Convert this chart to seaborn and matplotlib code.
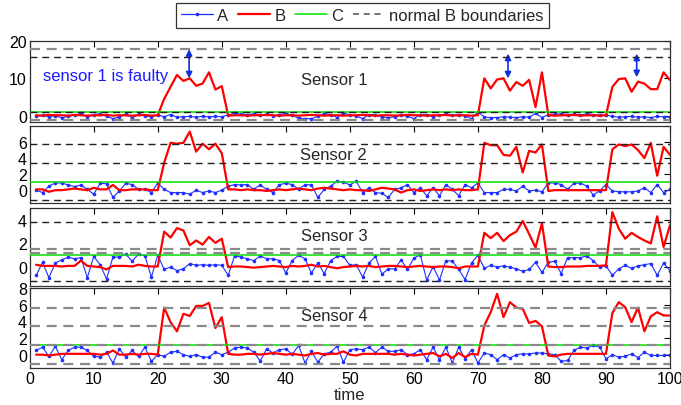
import numpy as np
import pandas as pd
import matplotlib
matplotlib.use("Agg")
import matplotlib.pyplot as plt
from matplotlib.lines import Line2D
import seaborn as sns

sns.set_style("white")
plt.rcParams['font.family'] = ['Liberation Sans', 'DejaVu Sans']

time = list(range(1, 101))

a_s1 = [-0.2, 0.1, -0.3, 0.0, -0.6, -0.2, 0.1, 0.6, -0.4, 0.3,
        0.5, -0.2, -0.8, -0.4, 0.5, -0.6, 0.4, -0.1, -0.3, 0.2,
        -0.3, 0.3, -0.4, -0.3, -0.2, -0.4, -0.2, -0.3, -0.2, -0.3,
        0.2, 0.6, 0.4, 0.3, 0.5, 0.2, 0.4, -0.1, 0.3, 0.6,
        0.1, -0.7, -0.8, -0.8, -0.2, 0.6, 0.3, -0.5, 0.7, 0.2,
        -0.1, -0.8, 0.3, 0.2, -0.4, -0.5, -0.3, 0.1, -0.1, -0.8,
        0.2, 0.3, -0.3, 0.2, 0.4, 0.1, 0.3, 0.0, -0.8, 1.1,
        -0.4, -0.5, -0.5, -0.3, -0.4, -0.5, -0.3, -0.4, 0.6, -0.5,
        0.3, 0.4, 0.5, 0.3, 0.4, 0.2, 0.5, 0.3, 0.1, 0.2,
        -0.2, -0.4, -0.3, -0.2, -0.4, -0.3, -0.5, -0.2, -0.3, -0.4]
b_s1 = [0.1, 0.0, 0.2, 0.1, 0.1, 0.0, 0.2, 0.1, 0.0, 0.1,
        0.1, 0.2, 0.0, 0.1, 0.1, 0.0, 0.1, 0.2, 0.0, 0.1,
        4.5, 7.7, 10.9, 9.3, 10.0, 8.0, 8.6, 11.6, 7.0, 7.9,
        0.0, 0.1, 0.1, 0.0, 0.1, 0.1, 0.2, 0.1, 0.0, 0.1,
        0.1, 0.0, 0.1, 0.2, 0.1, 0.0, 0.1, 0.1, 0.0, 0.1,
        0.1, 0.2, 0.1, 0.0, 0.1, 0.1, 0.0, 0.1, 0.2, 0.1,
        0.1, 0.0, 0.1, 0.1, 0.2, 0.0, 0.1, 0.1, 0.0, 0.1,
        10.0, 7.3, 9.7, 10.0, 6.7, 9.0, 8.0, 9.6, 2.3, 11.6,
        0.1, 0.0, 0.1, 0.1, 0.2, 0.0, 0.1, 0.1, 0.0, 0.1,
        7.7, 9.8, 10.0, 6.4, 9.1, 8.6, 7.1, 7.1, 11.6, 9.5]

a_s2 = [0.0, -0.3, 0.5, 0.9, 0.9, 0.65, 0.45, 0.65, 0.1, -0.5,
        0.85, 0.8, -0.9, -0.1, 0.85, 0.7, 0.1, 0.1, -0.3, 0.9,
        0.1, -0.3, -0.3, -0.3, -0.5, 0.0, -0.3, -0.1, -0.3, 0.0,
        0.5, 0.7, 0.65, 0.7, 0.1, 0.65, 0.1, -0.3, 0.7, 0.85,
        0.7, 0.1, 0.7, 0.65, -0.9, 0.1, 0.5, 1.1, 1.0, 0.65,
        1.1, -0.3, 0.3, -0.3, -0.4, -0.9, 0.1, 0.3, 0.7, -0.3,
        0.3, -0.7, 0.3, -0.7, 0.7, 0.1, -0.7, 0.7, 0.3, 0.9,
        -0.3, -0.3, -0.3, 0.1, 0.1, -0.1, 0.5, -0.1, 0.0, -0.2,
        0.9, 0.9, 0.7, 0.1, 0.85, 0.9, 0.5, -0.6, -0.1, 0.7,
        -0.1, -0.2, -0.2, -0.2, -0.1, 0.3, -0.3, 0.7, -0.3, 0.1]
b_s2 = [0.1, 0.1, -0.2, 0.0, 0.0, 0.1, 0.2, 0.1, 0.0, 0.3,
        0.1, 0.1, 0.65, 0.0, 0.0, 0.1, 0.1, 0.1, 0.0, 0.0,
        3.4, 5.9, 5.8, 5.9, 7.3, 4.8, 5.8, 5.1, 5.8, 4.6,
        0.1, 0.1, 0.0, 0.1, 0.0, 0.0, -0.1, 0.0, 0.1, 0.0,
        0.1, 0.2, 0.1, 0.0, 0.2, 0.3, 0.2, 0.1, 0.0, 0.1,
        0.0, 0.0, -0.1, 0.1, 0.3, 0.2, 0.1, -0.3, 0.0, 0.1,
        -0.1, 0.0, 0.1, 0.0, 0.1, 0.0, 0.1, 0.0, 0.0, 0.1,
        5.9, 5.6, 5.6, 4.4, 4.3, 5.4, 2.2, 4.9, 4.7, 5.7,
        -0.1, 0.0, 0.0, 0.0, 0.0, 0.0, 0.0, 0.0, 0.0, 0.0,
        5.1, 5.7, 5.5, 5.7, 5.0, 4.0, 5.9, 1.8, 5.4, 4.4]

a_s3 = [-0.7, 0.4, -0.9, 0.35, 0.6, 0.85, 0.7, 0.8, -0.9, 0.9,
        0.2, -1.0, 0.85, 0.85, 1.1, 0.5, 1.1, 0.95, -0.85, 1.0,
        -0.2, 0.0, -0.3, -0.15, 0.3, 0.15, 0.2, 0.15, 0.2, 0.15,
        -0.7, 0.95, 0.85, 0.7, 0.55, 0.95, 0.7, 0.7, 0.55, -0.5,
        0.55, 1.0, 0.7, -0.5, 0.35, -0.55, 0.55, 0.9, 0.9, 0.15,
        0.2, -0.85, 0.35, 0.9, -0.6, -0.15, -0.15, 0.6, -0.2, 0.75,
        1.05, -1.1, 0.05, -1.1, 0.55, 0.5, -0.2, -1.05, 0.35, 1.0,
        -0.1, 0.15, 0.0, 0.1, 0.0, -0.15, -0.35, -0.2, 0.4, -0.45,
        0.4, 0.5, -0.55, 0.8, 0.8, 0.8, 0.95, 0.55, 0.0, 0.1,
        -0.7, -0.15, 0.15, -0.1, 0.1, 0.2, 0.3, -0.7, 0.35, -0.3]
b_s3 = [0.2, 0.1, 0.1, 0.1, 0.05, 0.1, 0.1, 0.55, 0.1, 0.05,
        0.0, -0.2, 0.1, 0.1, 0.1, 0.05, 0.2, 0.1, 0.05, 0.05,
        3.0, 2.5, 3.3, 3.1, 1.85, 2.25, 1.9, 2.55, 2.05, 2.4,
        0.0, 0.05, 0.05, 0.0, -0.05, 0.0, 0.05, 0.1, 0.05, 0.0,
        0.1, 0.05, 0.1, 0.2, 0.05, 0.1, 0.0, -0.1, 0.0, 0.05,
        0.1, 0.05, 0.1, 0.0, 0.05, 0.1, 0.1, 0.05, 0.0, 0.05,
        0.1, 0.05, 0.0, 0.05, 0.05, 0.0, -0.1, 0.05, 0.05, 0.05,
        2.9, 2.45, 2.9, 2.2, 2.7, 3.0, 3.9, 2.8, 1.65, 3.7,
        0.05, 0.0, 0.0, 0.05, 0.05, 0.05, 0.1, 0.1, 0.1, 0.15,
        4.65, 3.25, 2.4, 2.9, 2.55, 2.25, 2.0, 4.3, 1.7, 3.55]

a_s4 = [0.5, 0.9, -0.2, 1.0, -0.6, 0.5, 0.9, 0.9, 0.5, -0.2,
        -0.3, 0.3, -1.0, 0.7, -0.3, 0.5, -0.2, 0.9, -0.8, 0.0,
        -0.2, 0.3, 0.4, 0.0, -0.2, 0.0, -0.3, -0.3, 0.3, 0.0,
        0.3, 0.8, 0.9, 0.8, 0.3, -0.75, 0.7, 0.2, 0.6, 0.7,
        0.05, 1.1, -1.0, 0.4, -0.9, 0.1, 0.3, 1.0, -0.9, 0.6,
        0.7, 0.6, 0.9, 0.25, 0.9, 0.4, 0.4, 0.6, 0.0, 0.1,
        0.6, -0.6, 0.9, -0.6, 0.9, -1.0, 0.9, -0.5, 0.6, -1.0,
        0.2, 0.0, -0.6, 0.0, -0.4, 0.0, 0.1, 0.1, 0.2, 0.2,
        0.1, 0.0, -0.8, -0.7, 0.5, 0.9, 0.8, 1.1, 0.9, -0.5,
        0.0, -0.3, -0.2, 0.1, -0.35, 0.3, -0.1, -0.1, -0.1, 0.0]
b_s4 = [0.0, 0.0, -0.1, 0.0, 0.1, 0.1, 0.1, 0.1, 0.1, 0.1,
        0.0, 0.1, 0.5, 0.0, 0.0, 0.1, 0.0, 0.1, 0.1, 0.0,
        5.65, 3.9, 2.8, 4.9, 4.65, 5.85, 5.85, 6.2, 3.2, 4.5,
        0.1, 0.0, 0.0, 0.1, 0.1, 0.0, 0.1, 0.2, 0.1, 0.0,
        0.1, 0.0, -0.1, 0.1, 0.2, 0.0, 0.1, 0.1, 0.4, 0.0,
        -0.1, 0.1, 0.1, 0.1, 0.1, 0.1, 0.0, 0.1, 0.0, -0.1,
        0.0, 0.1, 0.2, -0.2, 0.1, -0.4, 0.2, -0.3, 0.1, 0.0,
        3.5, 5.1, 7.3, 4.5, 6.3, 5.65, 5.5, 3.8, 4.05, 3.4,
        -0.1, -0.2, 0.0, 0.1, 0.1, 0.1, 0.1, 0.1, 0.1, 0.1,
        5.0, 6.3, 5.7, 3.9, 5.65, 2.8, 4.6, 5.1, 4.7, 4.7]

c_levels = [1.0, 1.05, 1.0, 1.1]
bound_black = [[15.6, 1.1], [5.7, 3.4, -1.2], [3.8, -1.2], []]
bound_gray = [[17.8, -1.1], [], [1.55, 1.2], [5.6, 3.4, 1.1, -1.1]]
ylims = [(-1.7, 20), (-1.6, 8), (-1.6, 5), (-1.6, 8)]
yticks = [[0, 10, 20], [0, 2, 4, 6, 8], [0, 2, 4], [0, 2, 4, 6, 8]]
ytick_labels = [["0", "10", "20"], ["0", "2", "4", "6", ""], ["0", "2", "4"],
                ["0", "2", "4", "6", "8"]]
titles = ["Sensor 1", "Sensor 2", "Sensor 3", "Sensor 4"]
title_y = [9.6, 4.4, 2.7, 4.7]
arrow_x = [24.9, 74.7, 94.8]
arrow_top = [17.8, 16.6, 16.6]
arrow_bot = [10.0, 10.0, 10.3]

A = [a_s1, a_s2, a_s3, a_s4]
B = [b_s1, b_s2, b_s3, b_s4]
for arr in A + B:
    assert len(arr) == 100, len(arr)

W, H = 681, 406
fig = plt.figure(figsize=(W / 100, H / 100), dpi=100)
boxes = [(42, 123), (127, 204), (209, 287), (289, 369)]
left, right = 29.7, 670
axes = []
for (top, bot) in boxes:
    ax = fig.add_axes([left / W, 1 - bot / H, (right - left) / W, (bot - top) / H])
    axes.append(ax)

blue = "#1f2fff"
for i, ax in enumerate(axes):
    df = pd.DataFrame({"time": time, "A": A[i], "B": B[i]})
    sns.lineplot(data=df, x="time", y="A", ax=ax, color=blue, lw=0.8,
                 marker="o", markersize=2.6, markeredgewidth=0, zorder=2)
    sns.lineplot(data=df, x="time", y="B", ax=ax, color="#ff0000", lw=1.6, zorder=3)
    ax.axhline(c_levels[i], color="#00e000", lw=1.1, zorder=4)
    for v in bound_gray[i]:
        ax.axhline(v, color="#8a8a8a", lw=1.6, ls=(0, (4.5, 3)), zorder=5)
    for v in bound_black[i]:
        ax.axhline(v, color="#202020", lw=1.0, ls=(0, (5, 3.5)), zorder=5)
    ax.set_xlim(0, 100)
    ax.set_ylim(*ylims[i])
    ax.set_yticks(yticks[i])
    ax.set_yticklabels(ytick_labels[i])
    ax.set_xticks(range(0, 101, 10))
    ax.tick_params(direction="in", top=True, right=True, length=4, width=0.8,
                   labelsize=11.5, pad=2, colors="black")
    ax.set_ylabel("")
    ax.set_xlabel("")
    for sp in ax.spines.values():
        sp.set_color("#303030")
        sp.set_linewidth(0.9)
    ax.text(47.5, title_y[i], titles[i], ha="center", va="center", fontsize=12)
    if i < 3:
        ax.tick_params(labelbottom=False)

axes[0].text(2, 10.7, "sensor 1 is faulty", color="#1a1aff", fontsize=12,
             ha="left", va="center")
for xa, yt, yb in zip(arrow_x, arrow_top, arrow_bot):
    axes[0].annotate("", xy=(xa, yb), xytext=(xa, yt),
                     arrowprops=dict(arrowstyle="<|-|>", color="#1030e0",
                                     lw=1.2, mutation_scale=9,
                                     shrinkA=0, shrinkB=0))

axes[3].set_xlabel("time", fontsize=12, labelpad=1)

handles = [
    Line2D([], [], color=blue, lw=0.9, marker="o", markersize=2.6, markeredgewidth=0),
    Line2D([], [], color="#ff0000", lw=1.6),
    Line2D([], [], color="#00e000", lw=1.1),
    Line2D([], [], color="#505050", lw=1.1, ls=(0, (4, 3))),
]
leg = fig.legend(handles, ["A", "B", "C", "normal B boundaries"], ncol=4,
                 loc="center", bbox_to_anchor=(362.5 / W, 1 - 16.5 / H),
                 fontsize=12, frameon=True, fancybox=False, handlelength=1.9,
                 handletextpad=0.25, columnspacing=0.6, borderpad=0.3)
leg.get_frame().set_edgecolor("black")
leg.get_frame().set_linewidth(0.9)

fig.savefig("out.png", dpi=100)
